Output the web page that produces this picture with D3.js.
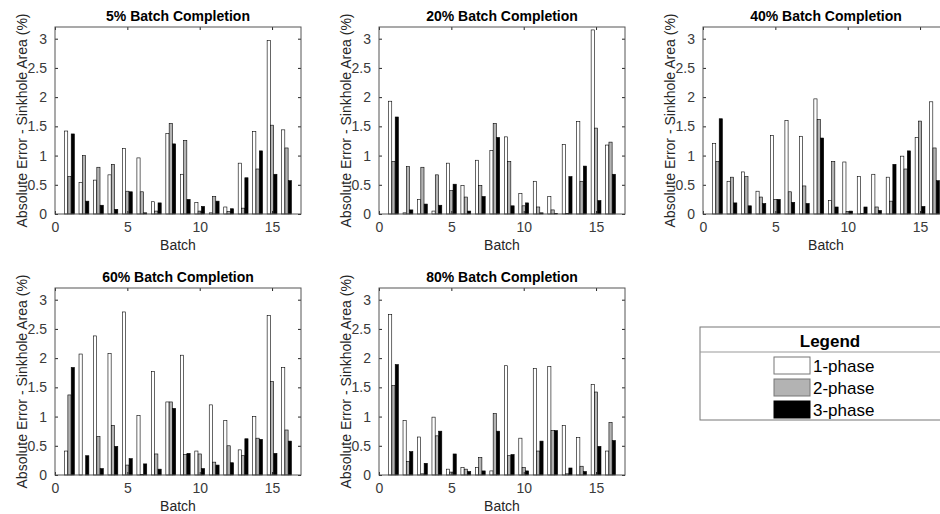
<!DOCTYPE html>
<html>
<head>
<meta charset="utf-8">
<script src="https://d3js.org/d3.v7.min.js"></script>
<style>
  body { margin: 0; background: #fff; }
  svg { display: block; font-family: "Liberation Sans", Arial, sans-serif; }
</style>
</head>
<body>
<div id="my_dataviz"></div>
<script>
// categories, ticks and labels
var batches = [1, 2, 3, 4, 5, 6, 7, 8, 9, 10, 11, 12, 13, 14, 15, 16];
var phases = ["1-phase", "2-phase", "3-phase"];
var phaseColors = ["#ffffff", "#b3b3b3", "#000000"];
var titles = ["5% Batch Completion", "20% Batch Completion", "40% Batch Completion",
              "60% Batch Completion", "80% Batch Completion"];
var xTicks = [0, 5, 10, 15];
var yTicks = [0, 0.5, 1, 1.5, 2, 2.5, 3];

// absolute error per batch, one array per phase (1-phase, 2-phase, 3-phase)
var err05 = [
  [1.42, 0.54, 0.58, 0.67, 1.12, 0.96, 0.21, 1.38, 0.68, 0.20, 0.02, 0.12, 0.87, 1.41, 2.97, 1.44],
  [0.64, 1.00, 0.80, 0.85, 0.39, 0.38, 0.05, 1.55, 1.26, 0.05, 0.30, 0.04, 0.10, 0.77, 1.52, 1.13],
  [1.37, 0.22, 0.15, 0.08, 0.38, 0.02, 0.19, 1.20, 0.25, 0.13, 0.22, 0.09, 0.62, 1.08, 0.68, 0.57]
];
var err20 = [
  [1.93, 0.02, 0.25, 0.05, 0.87, 0.49, 0.92, 1.09, 1.32, 0.35, 0.56, 0.30, 1.19, 1.58, 3.15, 1.18],
  [0.90, 0.81, 0.80, 0.67, 0.40, 0.29, 0.49, 1.55, 0.90, 0.14, 0.12, 0.07, 0.01, 0.56, 1.47, 1.23],
  [1.66, 0.07, 0.17, 0.15, 0.51, 0.05, 0.30, 1.31, 0.14, 0.19, 0.02, 0.01, 0.64, 0.82, 0.23, 0.68]
];
var err40 = [
  [1.21, 0.56, 0.72, 0.39, 1.34, 1.60, 1.33, 1.97, 0.23, 0.89, 0.64, 0.68, 0.63, 0.99, 1.31, 1.92],
  [0.90, 0.63, 0.64, 0.29, 0.25, 0.38, 0.48, 1.62, 0.90, 0.04, 0.01, 0.12, 0.22, 0.77, 1.59, 1.13],
  [1.63, 0.19, 0.14, 0.18, 0.25, 0.20, 0.18, 1.30, 0.12, 0.05, 0.12, 0.06, 0.85, 1.08, 0.13, 0.57]
];
var err60 = [
  [0.41, 2.07, 2.38, 2.08, 2.79, 1.02, 1.77, 1.25, 2.05, 0.41, 1.20, 0.93, 0.43, 1.00, 2.73, 1.84],
  [1.37, 0.00, 0.66, 0.85, 0.17, 0.01, 0.36, 1.25, 0.35, 0.36, 0.22, 0.50, 0.33, 0.63, 1.60, 0.77],
  [1.84, 0.33, 0.11, 0.49, 0.28, 0.19, 0.10, 1.14, 0.37, 0.11, 0.17, 0.21, 0.62, 0.61, 0.37, 0.58]
];
var err80 = [
  [2.75, 0.93, 0.65, 0.99, 0.10, 0.13, 0.13, 0.07, 1.87, 0.63, 1.82, 1.86, 0.85, 0.64, 1.55, 0.41],
  [1.53, 0.23, 0.02, 0.67, 0.05, 0.10, 0.30, 1.05, 0.33, 0.13, 0.41, 0.76, 0.02, 0.15, 1.42, 0.90],
  [1.89, 0.40, 0.20, 0.75, 0.36, 0.06, 0.07, 0.75, 0.35, 0.07, 0.58, 0.76, 0.12, 0.06, 0.49, 0.59]
];
var panels = [err05, err20, err40, err60, err80];

// layout of the 2x3 grid (last cell holds the legend)
var width = 940, height = 514;
var panelW = 246, panelH = 187;
var lefts = [55, 379, 703, 55, 379];
var tops = [27, 27, 27, 288, 288];

var svg = d3.select("#my_dataviz")
    .append("svg")
    .attr("width", width)
    .attr("height", height);

var textColor = "#262626";

panels.forEach(function (data, k) {
    var g = svg.append("g")
        .attr("transform", "translate(" + lefts[k] + "," + tops[k] + ")");

    var x = d3.scaleLinear().domain([0, 17]).range([0, panelW]);
    var y = d3.scaleLinear().domain([0, 3.2]).range([panelH, 0]);
    // offset of each phase inside a batch group, in batch units
    var off = d3.scaleBand().domain(phases).range([-0.34, 0.34]).paddingInner(0.04);

    // bars
    phases.forEach(function (ph, i) {
        g.append("g")
            .selectAll("rect")
            .data(data[i])
            .enter()
            .append("rect")
            .attr("x", function (d, j) { return x(batches[j] + off(ph)); })
            .attr("y", function (d) { return y(d); })
            .attr("width", x(off.bandwidth()) - x(0))
            .attr("height", function (d) { return y(0) - y(d); })
            .style("fill", phaseColors[i])
            .style("stroke", "#000")
            .style("stroke-width", 0.6);
    });

    // axes, ticks pointing inward on all four sides
    var ax = [
        g.append("g").attr("transform", "translate(0," + panelH + ")")
            .call(d3.axisBottom(x).tickValues(xTicks).tickSize(-3).tickPadding(8)),
        g.append("g")
            .call(d3.axisLeft(y).tickValues(yTicks).tickSize(-3).tickPadding(8).tickFormat(function (d) { return d; })),
        g.append("g")
            .call(d3.axisTop(x).tickValues(xTicks).tickSize(-3).tickFormat("")),
        g.append("g").attr("transform", "translate(" + panelW + ",0)")
            .call(d3.axisRight(y).tickValues(yTicks).tickSize(-3).tickFormat(""))
    ];
    ax.forEach(function (a) {
        a.select(".domain").remove();
        a.selectAll("line").style("stroke", textColor);
        a.selectAll("text").style("font-size", "14px").style("fill", "#3a3a3a")
            .style("font-family", "'Liberation Sans', Arial, sans-serif");
    });

    g.append("rect")
        .attr("width", panelW)
        .attr("height", panelH)
        .style("fill", "none")
        .style("stroke", "#555")
        .style("stroke-width", 1);

    // title and axis labels
    g.append("text")
        .attr("x", panelW / 2)
        .attr("y", -6)
        .attr("text-anchor", "middle")
        .style("font-size", "14px")
        .style("font-weight", "bold")
        .style("fill", "#000")
        .text(titles[k]);

    g.append("text")
        .attr("x", panelW / 2)
        .attr("y", panelH + 36)
        .attr("text-anchor", "middle")
        .style("font-size", "14px")
        .style("fill", textColor)
        .text("Batch");

    g.append("text")
        .attr("transform", "translate(-28," + (panelH / 2) + ") rotate(-90)")
        .attr("text-anchor", "middle")
        .style("font-size", "14px")
        .style("fill", textColor)
        .text("Absolute Error - Sinkhole Area (%)");
});

// legend box
var lg = svg.append("g").attr("transform", "translate(700,327)");
lg.append("rect")
    .attr("width", 262)
    .attr("height", 93)
    .style("fill", "#fff")
    .style("stroke", "#777")
    .style("stroke-width", 1);
lg.append("line")
    .attr("x1", 0).attr("x2", 262)
    .attr("y1", 25).attr("y2", 25)
    .style("stroke", "#999");
lg.append("text")
    .attr("x", 130)
    .attr("y", 20)
    .attr("text-anchor", "middle")
    .style("font-size", "17px")
    .style("font-weight", "bold")
    .text("Legend");

var item = lg.selectAll(".item")
    .data(phases)
    .enter()
    .append("g")
    .attr("transform", function (d, i) { return "translate(74," + (30 + i * 22) + ")"; });
item.append("rect")
    .attr("width", 36)
    .attr("height", 17)
    .style("fill", function (d, i) { return phaseColors[i]; })
    .style("stroke", function (d, i) { return i === 2 ? "#000" : "#777"; })
    .style("stroke-width", 1);
item.append("text")
    .attr("x", 39)
    .attr("y", 15)
    .style("font-size", "17px")
    .style("fill", "#000")
    .text(function (d) { return d; });
</script>
</body>
</html>
